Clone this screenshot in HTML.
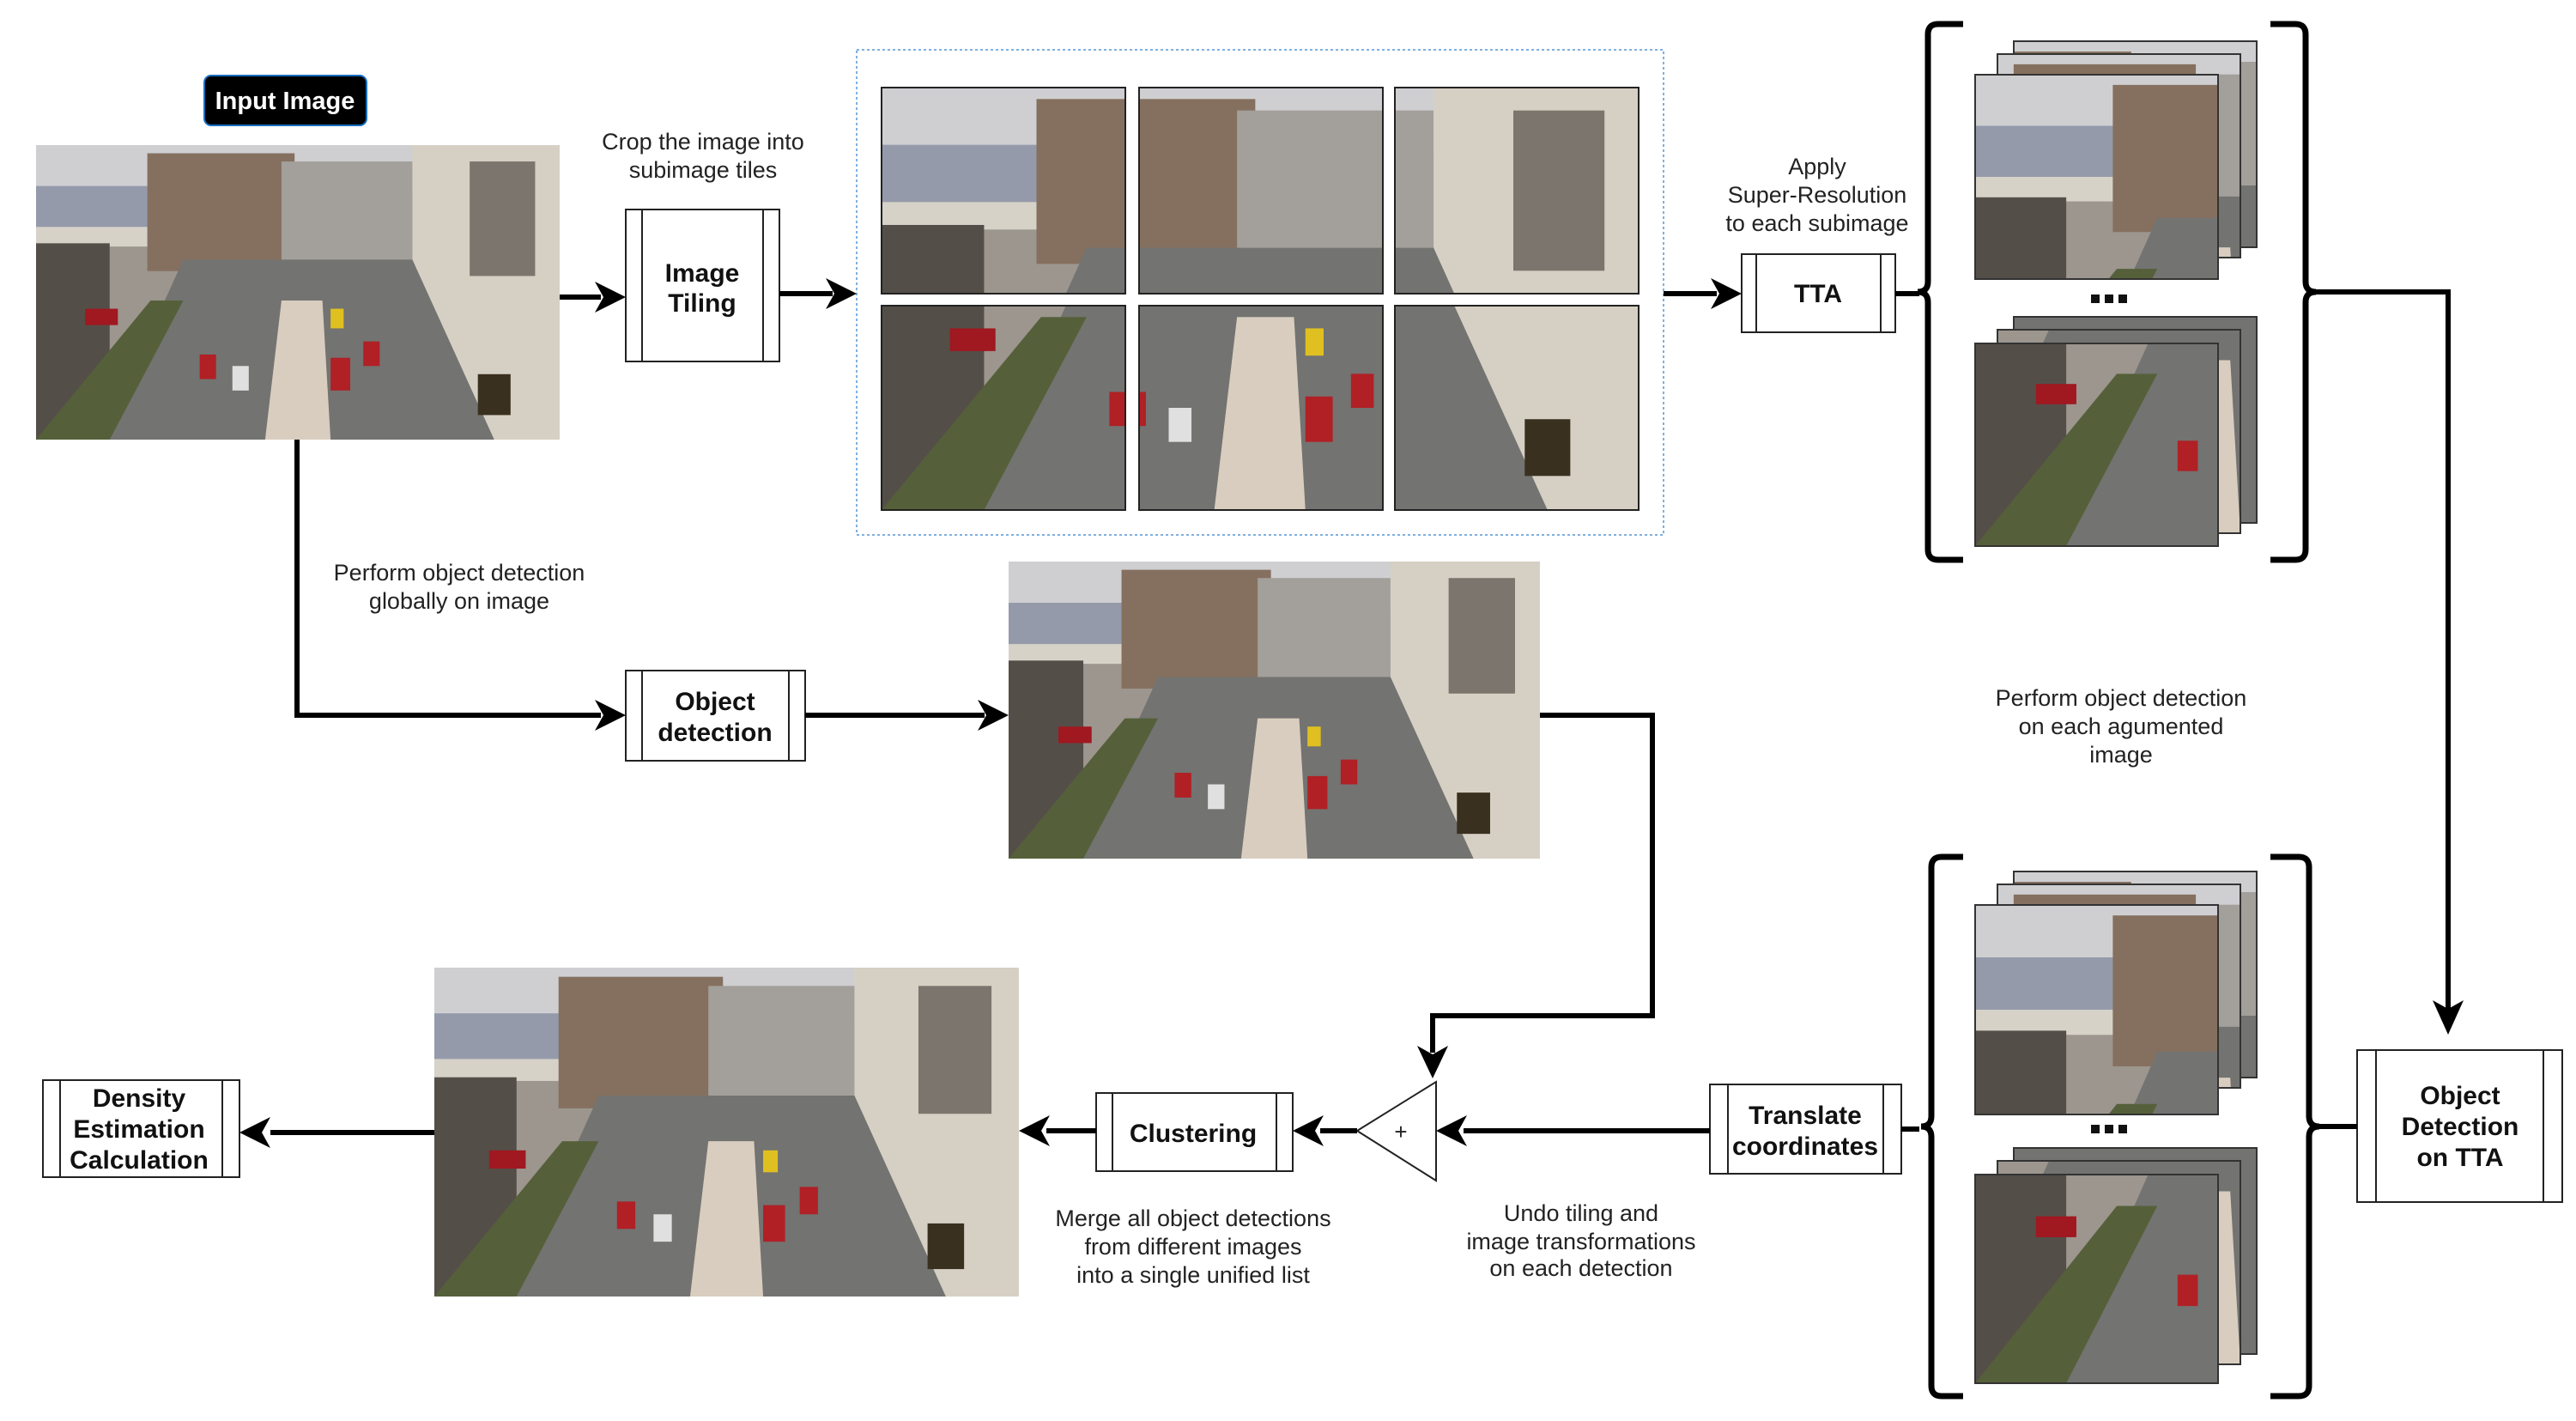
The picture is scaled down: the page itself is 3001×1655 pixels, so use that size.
<!DOCTYPE html>
<html><head><meta charset="utf-8"><style>
html,body{margin:0;padding:0;background:#fff}
svg{display:block}
text{font-family:"Liberation Sans",sans-serif}
.lb{font-size:27px;fill:#222;text-anchor:middle}
.bx{font-size:30px;font-weight:bold;fill:#111;text-anchor:middle}
</style></head><body>
<svg width="3001" height="1655" viewBox="0 0 3001 1655" xmlns="http://www.w3.org/2000/svg">
<defs>
<symbol id="scene" viewBox="0 0 320 180" preserveAspectRatio="none">
<g stroke="none">
<rect width="320" height="180" fill="#9c968e"/>
<rect width="320" height="30" fill="#cfcfd2"/>
<rect y="25" width="200" height="28" fill="#959aab"/>
<rect y="50" width="200" height="12" fill="#d6d2c8"/>
<rect x="68" y="5" width="90" height="72" fill="#85705f"/>
<rect x="150" y="10" width="80" height="62" fill="#a39f9a"/>
<rect x="230" y="0" width="90" height="180" fill="#d6d0c4"/>
<rect x="265" y="10" width="40" height="70" fill="#7b756e"/>
<polygon points="40,180 90,70 230,70 280,180" fill="#737371"/>
<polygon points="140,180 150,95 175,95 180,180" fill="#d8cdbf"/>
<rect x="0" y="60" width="45" height="120" fill="#544e48"/>
<polygon points="0,180 45,180 90,95 70,95" fill="#55603a"/>
<rect x="30" y="100" width="20" height="10" fill="#a01820"/>
<rect x="100" y="128" width="10" height="15" fill="#b02025"/>
<rect x="120" y="135" width="10" height="15" fill="#e0e0e0"/>
<rect x="180" y="130" width="12" height="20" fill="#b02025"/>
<rect x="200" y="120" width="10" height="15" fill="#b02025"/>
<rect x="180" y="100" width="8" height="12" fill="#e0c020"/>
<rect x="270" y="140" width="20" height="25" fill="#3a3020"/>
</g>
</symbol>
</defs>

<!-- Input image -->
<rect x="238" y="88" width="189" height="58" rx="8" fill="#000" stroke="#1a6fc0" stroke-width="2"/>
<text x="332" y="127" font-size="29" font-weight="bold" fill="#fff" text-anchor="middle">Input Image</text>
<svg x="42" y="169" width="610" height="343" viewBox="0 0 320 180" preserveAspectRatio="none"><use href="#scene"/></svg>

<!-- Crop label & Image tiling -->
<text class="lb" x="819" y="174">Crop the image into</text>
<text class="lb" x="819" y="207">subimage tiles</text>
<rect x="729" y="244" width="179" height="177" fill="#fff" stroke="#222" stroke-width="2"/>
<line x1="748" y1="244" x2="748" y2="421" stroke="#222" stroke-width="2"/>
<line x1="889" y1="244" x2="889" y2="421" stroke="#222" stroke-width="2"/>
<text class="bx" x="818" y="328">Image</text>
<text class="bx" x="818" y="363">Tiling</text>

<!-- dotted tiles box -->
<rect x="998" y="58" width="940" height="565" fill="none" stroke="#7fb0e0" stroke-width="2" stroke-dasharray="3,3"/>
<svg x="1027" y="102" width="284" height="240" viewBox="0 0 107 90" preserveAspectRatio="none"><use href="#scene" width="320" height="180"/></svg>
<svg x="1327" y="102" width="284" height="240" viewBox="107 0 107 90" preserveAspectRatio="none"><use href="#scene" width="320" height="180"/></svg>
<svg x="1625" y="102" width="284" height="240" viewBox="213 0 107 90" preserveAspectRatio="none"><use href="#scene" width="320" height="180"/></svg>
<svg x="1027" y="356" width="284" height="238" viewBox="0 90 107 90" preserveAspectRatio="none"><use href="#scene" width="320" height="180"/></svg>
<svg x="1327" y="356" width="284" height="238" viewBox="107 90 107 90" preserveAspectRatio="none"><use href="#scene" width="320" height="180"/></svg>
<svg x="1625" y="356" width="284" height="238" viewBox="213 90 107 90" preserveAspectRatio="none"><use href="#scene" width="320" height="180"/></svg>
<g fill="none" stroke="#222" stroke-width="2">
<rect x="1027" y="102" width="284" height="240"/><rect x="1327" y="102" width="284" height="240"/><rect x="1625" y="102" width="284" height="240"/>
<rect x="1027" y="356" width="284" height="238"/><rect x="1327" y="356" width="284" height="238"/><rect x="1625" y="356" width="284" height="238"/>
</g>

<!-- TTA -->
<text class="lb" x="2117" y="203">Apply</text>
<text class="lb" x="2117" y="236">Super-Resolution</text>
<text class="lb" x="2117" y="269">to each subimage</text>
<rect x="2029" y="296" width="179" height="91" fill="#fff" stroke="#222" stroke-width="2"/>
<line x1="2046" y1="296" x2="2046" y2="387" stroke="#222" stroke-width="2"/>
<line x1="2191" y1="296" x2="2191" y2="387" stroke="#222" stroke-width="2"/>
<text class="bx" x="2118" y="352">TTA</text>

<!-- top stacks -->
<svg x="2346" y="48" width="283" height="240" viewBox="100 0 120 100" preserveAspectRatio="none"><use href="#scene" width="320" height="180"/></svg>
<rect x="2346" y="48" width="283" height="240" fill="none" stroke="#333" stroke-width="2"/>
<svg x="2327" y="63" width="283" height="237" viewBox="60 0 120 100" preserveAspectRatio="none"><use href="#scene" width="320" height="180"/></svg>
<rect x="2327" y="63" width="283" height="237" fill="none" stroke="#333" stroke-width="2"/>
<svg x="2301" y="87" width="283" height="238" viewBox="0 0 120 100" preserveAspectRatio="none"><use href="#scene" width="320" height="180"/></svg>
<rect x="2301" y="87" width="283" height="238" fill="none" stroke="#333" stroke-width="2"/>
<svg x="2346" y="369" width="283" height="240" viewBox="100 80 120 100" preserveAspectRatio="none"><use href="#scene" width="320" height="180"/></svg>
<rect x="2346" y="369" width="283" height="240" fill="none" stroke="#333" stroke-width="2"/>
<svg x="2327" y="384" width="283" height="237" viewBox="60 80 120 100" preserveAspectRatio="none"><use href="#scene" width="320" height="180"/></svg>
<rect x="2327" y="384" width="283" height="237" fill="none" stroke="#333" stroke-width="2"/>
<svg x="2301" y="400" width="283" height="236" viewBox="0 80 120 100" preserveAspectRatio="none"><use href="#scene" width="320" height="180"/></svg>
<rect x="2301" y="400" width="283" height="236" fill="none" stroke="#333" stroke-width="2"/>
<g fill="#111"><rect x="2436" y="343" width="10" height="10"/><rect x="2452" y="343" width="10" height="10"/><rect x="2468" y="343" width="10" height="10"/></g>

<!-- bottom stacks -->
<svg x="2346" y="1015" width="283" height="240" viewBox="100 0 120 100" preserveAspectRatio="none"><use href="#scene" width="320" height="180"/></svg>
<rect x="2346" y="1015" width="283" height="240" fill="none" stroke="#333" stroke-width="2"/>
<svg x="2327" y="1030" width="283" height="237" viewBox="60 0 120 100" preserveAspectRatio="none"><use href="#scene" width="320" height="180"/></svg>
<rect x="2327" y="1030" width="283" height="237" fill="none" stroke="#333" stroke-width="2"/>
<svg x="2301" y="1054" width="283" height="244" viewBox="0 0 120 100" preserveAspectRatio="none"><use href="#scene" width="320" height="180"/></svg>
<rect x="2301" y="1054" width="283" height="244" fill="none" stroke="#333" stroke-width="2"/>
<svg x="2346" y="1337" width="283" height="240" viewBox="100 80 120 100" preserveAspectRatio="none"><use href="#scene" width="320" height="180"/></svg>
<rect x="2346" y="1337" width="283" height="240" fill="none" stroke="#333" stroke-width="2"/>
<svg x="2327" y="1352" width="283" height="237" viewBox="60 80 120 100" preserveAspectRatio="none"><use href="#scene" width="320" height="180"/></svg>
<rect x="2327" y="1352" width="283" height="237" fill="none" stroke="#333" stroke-width="2"/>
<svg x="2301" y="1368" width="283" height="243" viewBox="0 80 120 100" preserveAspectRatio="none"><use href="#scene" width="320" height="180"/></svg>
<rect x="2301" y="1368" width="283" height="243" fill="none" stroke="#333" stroke-width="2"/>
<g fill="#111"><rect x="2436" y="1310" width="10" height="10"/><rect x="2452" y="1310" width="10" height="10"/><rect x="2468" y="1310" width="10" height="10"/></g>

<!-- braces -->
<g fill="none" stroke="#000" stroke-width="7">
<path d="M2287 28 H2258 Q2246 28 2246 40 V328 Q2246 340 2234 340 Q2246 340 2246 352 V640 Q2246 652 2258 652 H2287"/>
<path d="M2645 28 H2674 Q2686 28 2686 40 V328 Q2686 340 2698 340 Q2686 340 2686 352 V640 Q2686 652 2674 652 H2645"/>
<path d="M2287 998 H2262 Q2250 998 2250 1010 V1300 Q2250 1312 2238 1312 Q2250 1312 2250 1324 V1614 Q2250 1626 2262 1626 H2287"/>
<path d="M2645 998 H2678 Q2690 998 2690 1010 V1300 Q2690 1312 2702 1312 Q2690 1312 2690 1324 V1614 Q2690 1626 2678 1626 H2645"/>
</g>

<!-- Object Detection on TTA -->
<text class="lb" x="2471" y="822">Perform object detection</text>
<text class="lb" x="2471" y="855">on each agumented</text>
<text class="lb" x="2471" y="888">image</text>
<rect x="2746" y="1223" width="239" height="177" fill="#fff" stroke="#222" stroke-width="2"/>
<line x1="2768" y1="1223" x2="2768" y2="1400" stroke="#222" stroke-width="2"/>
<line x1="2963" y1="1223" x2="2963" y2="1400" stroke="#222" stroke-width="2"/>
<text class="bx" x="2866" y="1286">Object</text>
<text class="bx" x="2866" y="1322">Detection</text>
<text class="bx" x="2866" y="1358">on TTA</text>

<!-- Translate -->
<rect x="1992" y="1263" width="223" height="104" fill="#fff" stroke="#222" stroke-width="2"/>
<line x1="2013" y1="1263" x2="2013" y2="1367" stroke="#222" stroke-width="2"/>
<line x1="2194" y1="1263" x2="2194" y2="1367" stroke="#222" stroke-width="2"/>
<text class="bx" x="2103" y="1309">Translate</text>
<text class="bx" x="2103" y="1345">coordinates</text>
<text class="lb" x="1842" y="1422">Undo tiling and</text>
<text class="lb" x="1842" y="1455">image transformations</text>
<text class="lb" x="1842" y="1486">on each detection</text>

<!-- sum triangle -->
<polygon points="1673,1260 1673,1375 1581,1317" fill="#fff" stroke="#222" stroke-width="2"/>
<text x="1632" y="1327" font-size="26" text-anchor="middle" fill="#222">+</text>

<!-- global detection -->
<text class="lb" x="535" y="676">Perform object detection</text>
<text class="lb" x="535" y="709">globally on image</text>
<rect x="729" y="781" width="209" height="105" fill="#fff" stroke="#222" stroke-width="2"/>
<line x1="748" y1="781" x2="748" y2="886" stroke="#222" stroke-width="2"/>
<line x1="919" y1="781" x2="919" y2="886" stroke="#222" stroke-width="2"/>
<text class="bx" x="833" y="827">Object</text>
<text class="bx" x="833" y="863">detection</text>
<svg x="1175" y="654" width="619" height="346" viewBox="0 0 320 180" preserveAspectRatio="none"><use href="#scene"/></svg>

<!-- clustering -->
<rect x="1277" y="1273" width="229" height="91" fill="#fff" stroke="#222" stroke-width="2"/>
<line x1="1296" y1="1273" x2="1296" y2="1364" stroke="#222" stroke-width="2"/>
<line x1="1487" y1="1273" x2="1487" y2="1364" stroke="#222" stroke-width="2"/>
<text class="bx" x="1390" y="1330">Clustering</text>
<text class="lb" x="1390" y="1428">Merge all object detections</text>
<text class="lb" x="1390" y="1461">from different images</text>
<text class="lb" x="1390" y="1494">into a single unified list</text>
<svg x="506" y="1127" width="681" height="383" viewBox="0 0 320 180" preserveAspectRatio="none"><use href="#scene"/></svg>

<!-- density -->
<rect x="50" y="1258" width="229" height="113" fill="#fff" stroke="#222" stroke-width="2"/>
<line x1="70" y1="1258" x2="70" y2="1371" stroke="#222" stroke-width="2"/>
<line x1="259" y1="1258" x2="259" y2="1371" stroke="#222" stroke-width="2"/>
<text class="bx" x="162" y="1289">Density</text>
<text class="bx" x="162" y="1325">Estimation</text>
<text class="bx" x="162" y="1361">Calculation</text>

<!-- connectors -->
<g fill="none" stroke="#000" stroke-width="6">
<line x1="652" y1="346" x2="700" y2="346"/>
<line x1="908" y1="342" x2="970" y2="342"/>
<line x1="1938" y1="342" x2="2000" y2="342"/>
<line x1="2208" y1="342" x2="2236" y2="342"/>
<polyline points="2698,340 2852,340 2852,1175"/>
<line x1="2702" y1="1312" x2="2746" y2="1312"/>
<line x1="2215" y1="1315" x2="2236" y2="1315"/>
<line x1="1992" y1="1317" x2="1705" y2="1317"/>
<polyline points="346,512 346,833 700,833"/>
<line x1="938" y1="833" x2="1147" y2="833"/>
<polyline points="1794,833 1925,833 1925,1183 1669,1183 1669,1226"/>
<line x1="1581" y1="1317" x2="1538" y2="1317"/>
<line x1="1277" y1="1317" x2="1219" y2="1317"/>
<line x1="506" y1="1319" x2="315" y2="1319"/>
</g>
<g fill="#000">
<polygon points="729,346 693,328 703,346 693,364"/>
<polygon points="998,342 962,324 972,342 962,360"/>
<polygon points="2029,342 1993,324 2003,342 1993,360"/>
<polygon points="2852,1205 2834,1165 2852,1175 2870,1165"/>
<polygon points="1673,1317 1709,1299 1699,1317 1709,1335"/>
<polygon points="729,833 693,815 703,833 693,851"/>
<polygon points="1175,833 1139,815 1149,833 1139,851"/>
<polygon points="1669,1256 1651,1218 1669,1228 1687,1218"/>
<polygon points="1506,1317 1542,1299 1532,1317 1542,1335"/>
<polygon points="1187,1317 1223,1299 1213,1317 1223,1335"/>
<polygon points="279,1319 315,1301 305,1319 315,1337"/>
</g>
</svg>
</body></html>
